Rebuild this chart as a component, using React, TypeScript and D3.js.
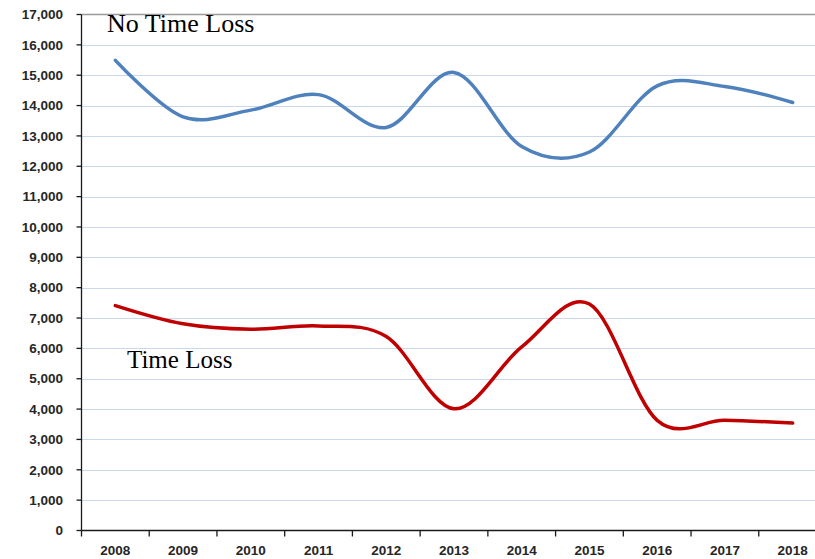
import { scaleBand, scaleLinear, line, curveCardinal, format } from "d3";

const years = ["2008", "2009", "2010", "2011", "2012", "2013", "2014", "2015", "2016", "2017", "2018"];
const noTimeLoss = [15490, 13630, 13850, 14360, 13280, 15090, 12650, 12470, 14650, 14630, 14100];
const timeLoss = [7410, 6810, 6630, 6740, 6390, 4010, 6050, 7460, 3630, 3630, 3540];
const yTicks = [0, 1000, 2000, 3000, 4000, 5000, 6000, 7000, 8000, 9000, 10000, 11000, 12000, 13000, 14000, 15000, 16000, 17000];

const W = 815;
const H = 559;
const left = 81.5;
const top = 14.5;
const bottom = 530.5;
const right = 826.5; // plot runs past the crop

function App() {
  const x = scaleBand().domain(years).range([left, right]);
  const y = scaleLinear().domain([0, 17000]).range([bottom, top]);
  const fmt = format(",");

  const path = line<number>()
    .x((_, i) => (x(years[i]) as number) + x.bandwidth() / 2)
    .y((d) => y(d))
    .curve(curveCardinal.tension(0));

  const tickFont = { fontFamily: "'Liberation Sans', Arial, sans-serif", fontWeight: 700, fontSize: 13.5, fill: "#262626" };

  return (
    <svg width={W} height={H} style={{ position: "absolute", left: 0, top: 0, background: "#fff" }}>
      {yTicks.slice(1, -1).map((t) => (
        <line key={t} x1={left} x2={W} y1={Math.round(y(t)) + 0.5} y2={Math.round(y(t)) + 0.5} stroke="#c9d8ec" strokeWidth={1} />
      ))}
      <line x1={left} x2={W} y1={top} y2={top} stroke="#9a9a9a" strokeWidth={1.3} />
      <line x1={left} x2={left} y1={top} y2={bottom} stroke="#1a1a1a" strokeWidth={1.3} />
      <line x1={left} x2={W} y1={bottom} y2={bottom} stroke="#1a1a1a" strokeWidth={1.3} />
      {yTicks.map((t) => (
        <g key={t}>
          <line x1={left - 5} x2={left} y1={y(t)} y2={y(t)} stroke="#1a1a1a" strokeWidth={1.3} />
          <text x={63} y={y(t)} dy="0.35em" textAnchor="end" {...tickFont}>
            {fmt(t)}
          </text>
        </g>
      ))}
      {years.map((yr) => (
        <g key={yr}>
          <line x1={x(yr) as number} x2={x(yr) as number} y1={bottom} y2={bottom + 6} stroke="#1a1a1a" strokeWidth={1.3} />
          <text x={(x(yr) as number) + x.bandwidth() / 2} y={555} textAnchor="middle" {...tickFont}>
            {yr}
          </text>
        </g>
      ))}
      <path d={path(noTimeLoss) ?? ""} fill="none" stroke="#4f81bd" strokeWidth={3.5} strokeLinecap="round" />
      <path d={path(timeLoss) ?? ""} fill="none" stroke="#c00000" strokeWidth={3.5} strokeLinecap="round" />
      <text x={107} y={32} fontFamily="'Liberation Serif', 'Times New Roman', serif" fontSize={26} fill="#000">
        No Time Loss
      </text>
      <text x={127} y={368} fontFamily="'Liberation Serif', 'Times New Roman', serif" fontSize={25} fill="#000">
        Time Loss
      </text>
    </svg>
  );
}

export default App;
